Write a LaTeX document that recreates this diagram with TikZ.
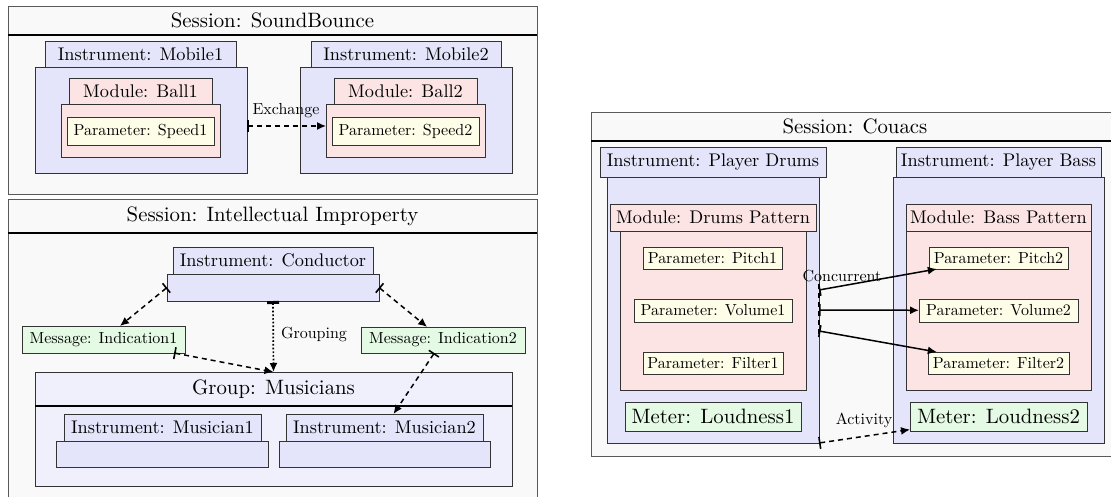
\documentclass[tikz,border=0pt]{standalone}
\usepackage{fontspec}
\setmainfont{lmroman10}[Extension=.otf, UprightFont=*-regular, BoldFont=*-bold, ItalicFont=*-italic]
\usetikzlibrary{arrows.meta}
\definecolor{sessc}{RGB}{249,249,249}
\definecolor{instc}{RGB}{228,228,250}
\definecolor{modc}{RGB}{253,228,228}
\definecolor{parc}{RGB}{254,253,231}
\definecolor{msgc}{RGB}{228,250,228}
\definecolor{grpc}{RGB}{240,240,252}
\newcommand\fbig{\fontsize{20.8}{24}\selectfont}
\newcommand\fnorm{\fontsize{18.3}{21}\selectfont}
\newcommand\fsmall{\fontsize{16}{19}\selectfont}
% \bx{name}{style}{x1}{y1}{x2}{y2}{text}
\newcommand\bx[7]{\node[#2, minimum width={((#5)-(#3))*1pt}, minimum height={((#6)-(#4))*1pt}]
  (#1) at ({((#3)+(#5))/2},{((#4)+(#6))/2}) {#7};}
\tikzset{
  every node/.style={inner sep=0pt, outer sep=0pt},
  sess/.style={draw=black!65, line width=0.9pt, fill=sessc},
  sesstitle/.style={font=\fbig},
  sepline/.style={line width=1.6pt, draw=black},
  instbox/.style={draw=black!80, line width=0.9pt, fill=instc, font=\fnorm},
  modbox/.style={draw=black!80, line width=0.9pt, fill=modc, font=\fnorm},
  parbox/.style={draw=black!80, line width=0.9pt, fill=parc, font=\fsmall},
  msgbox/.style={draw=black!80, line width=0.9pt, fill=msgc, font=\fsmall},
  meterbox/.style={draw=black!80, line width=0.9pt, fill=msgc, font=\fbig},
  grpbox/.style={draw=black!80, line width=0.9pt, fill=grpc},
  lbl/.style={font=\fsmall},
  dasharrow/.style={line width=1.5pt, dash pattern=on 5pt off 4pt,
    {Bar[width=12pt,line width=1.6pt]}-{Latex[length=9pt,width=8pt]}},
  dotarrow/.style={line width=1.7pt, dotted,
    {Bar[width=12pt,line width=3pt]}-{Latex[length=9pt,width=8pt]}},
  solidarrow/.style={line width=1.5pt,
    {Bar[width=12pt,line width=1.6pt]}-{Latex[length=9pt,width=8pt]}},
  syncline/.style={line width=1.5pt, dash pattern=on 5pt off 4pt}
}
\begin{document}
\begin{tikzpicture}[x=1pt,y=-1pt]
\useasboundingbox (0,0) rectangle (1111,497);

% ---------- Session: SoundBounce ----------
\bx{s1}{sess}{8}{6}{537}{194}{}
\bx{s1t}{sesstitle}{8}{6}{537}{35}{Session: SoundBounce}
\draw[sepline] (s1t.south west) -- (s1t.south east);

\bx{m1b}{instbox}{35}{67}{247}{173}{}
\bx{m1t}{instbox}{45}{41}{236}{67}{Instrument: Mobile1}
\bx{b1b}{modbox}{61}{104}{220}{157}{}
\bx{b1t}{modbox}{69}{78}{212}{104}{Module: Ball1}
\bx{sp1}{parbox}{67}{117}{214}{145}{Parameter: Speed1}

\bx{m2b}{instbox}{300}{67}{512}{173}{}
\bx{m2t}{instbox}{311}{41}{501}{67}{Instrument: Mobile2}
\bx{b2b}{modbox}{326}{104}{485}{157}{}
\bx{b2t}{modbox}{334}{78}{477}{104}{Module: Ball2}
\bx{sp2}{parbox}{332}{117}{479}{145}{Parameter: Speed2}

\coordinate (exy) at (0,126);
\draw[dasharrow] (m1b.east |- exy) -- (b2b.west |- exy);
\node[lbl] (exl) at (286,111) {Exchange};

% ---------- Session: Intellectual Improperty ----------
\bx{s2}{sess}{8}{199}{537}{512}{}
\bx{s2t}{sesstitle}{8}{199}{537}{233}{Session: Intellectual Improperty}
\draw[sepline] (s2t.south west) -- (s2t.south east);

\bx{cb}{instbox}{167}{274}{379}{301}{}
\bx{ct}{instbox}{173}{247}{373}{274}{Instrument: Conductor}

\bx{i1}{msgbox}{22}{326}{185}{353}{Message: Indication1}
\bx{i2}{msgbox}{361}{327}{525}{353}{Message: Indication2}

\bx{grp}{grpbox}{35}{372}{512}{486}{}
\bx{grpt}{sesstitle}{35}{372}{512}{406}{Group: Musicians}
\draw[sepline] (grpt.south west) -- (grpt.south east);

\bx{mu1b}{instbox}{56}{441}{268}{467}{}
\bx{mu1t}{instbox}{64}{414}{261}{441}{Instrument: Musician1}
\bx{mu2b}{instbox}{279}{441}{490}{467}{}
\bx{mu2t}{instbox}{286}{414}{483}{441}{Instrument: Musician2}

\draw[dasharrow] (cb.west) -- (i1);
\draw[dasharrow] (cb.east) -- (i2);
\draw[dotarrow] (cb.south) -- (grp.north);
\node[lbl] (grl) at (314,335) {Grouping};
\draw[dasharrow] (i1) -- (grp.north);
\draw[dasharrow] (i2) -- (mu2t);

% ---------- Session: Couacs ----------
\bx{s3}{sess}{591}{112}{1119}{456}{}
\bx{s3t}{sesstitle}{591}{112}{1119}{141}{Session: Couacs}
\draw[sepline] (s3t.south west) -- (s3t.south east);

\bx{db}{instbox}{607}{177}{819}{443}{}
\bx{dt}{instbox}{600}{147}{826}{177}{Instrument: Player Drums}
\bx{dpb}{modbox}{620}{231}{806}{390}{}
\bx{dpt}{modbox}{610}{204}{816}{231}{Module: Drums Pattern}
\bx{p1}{parbox}{643}{247}{782}{269}{Parameter: Pitch1}
\bx{v1}{parbox}{634}{299}{792}{322}{Parameter: Volume1}
\bx{f1}{parbox}{643}{352}{783}{374}{Parameter: Filter1}
\bx{l1}{meterbox}{625}{402}{801}{431}{Meter: Loudness1}

\bx{bb}{instbox}{893}{177}{1104}{443}{}
\bx{bt}{instbox}{896}{147}{1101}{177}{Instrument: Player Bass}
\bx{bpb}{modbox}{906}{231}{1091}{390}{}
\bx{bpt}{modbox}{906}{204}{1091}{231}{Module: Bass Pattern}
\bx{p2}{parbox}{929}{247}{1068}{269}{Parameter: Pitch2}
\bx{v2}{parbox}{919}{299}{1078}{322}{Parameter: Volume2}
\bx{f2}{parbox}{928}{352}{1069}{374}{Parameter: Filter2}
\bx{l2}{meterbox}{910}{402}{1087}{431}{Meter: Loudness2}

\coordinate (c1) at (819,290);
\coordinate (c2) at (819,310);
\coordinate (c3) at (819,331);
\coordinate (cs) at (819,284);
\coordinate (ce) at (819,337);
\draw[syncline] (cs) -- (ce);
\draw[solidarrow] (c1) -- (p2);
\draw[solidarrow] (c2) -- (v2);
\draw[solidarrow] (c3) -- (f2);
\node[lbl] (ccl) at (842,276) {Concurrent};

\draw[dasharrow] (db.south east) -- (l2);
\node[lbl] (acl) at (864,420) {Activity};
\end{tikzpicture}
\end{document}
